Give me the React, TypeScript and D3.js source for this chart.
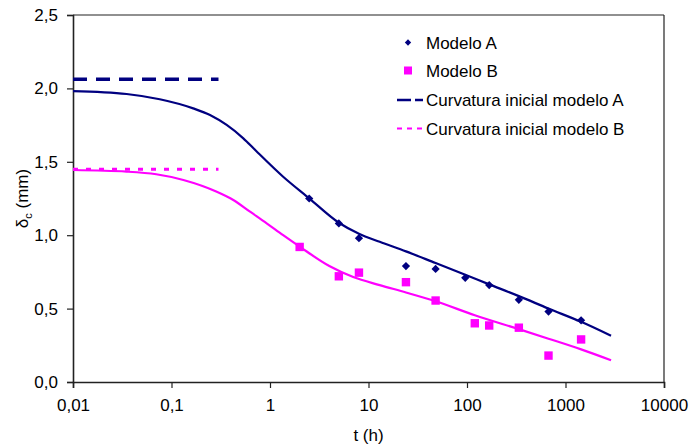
import React, { useRef, useEffect } from 'react';
import * as d3 from 'd3';

// measured points
const timeA = [2.5, 5, 8, 24, 48, 96, 168, 336, 672, 1440];
const deltaA = [1.25, 1.08, 0.98, 0.79, 0.77, 0.71, 0.66, 0.56, 0.48, 0.42];
const timeB = [2, 5, 8, 24, 48, 120, 168, 336, 672, 1440];
const deltaB = [0.92, 0.72, 0.745, 0.68, 0.555, 0.4, 0.385, 0.37, 0.18, 0.29];

// model curves
const curveTimeA = [0.01, 0.035, 0.076, 0.166, 0.246, 0.363, 0.536, 0.72, 1.36, 2.5, 5, 8, 13, 24, 48, 96, 168, 336, 672, 1440, 2900];
const curveDeltaA = [1.982, 1.962, 1.926, 1.864, 1.819, 1.751, 1.66, 1.575, 1.398, 1.251, 1.085, 1.01, 0.955, 0.89, 0.81, 0.73, 0.665, 0.585, 0.5, 0.41, 0.315];
const curveTimeB = [0.01, 0.035, 0.07, 0.132, 0.288, 0.424, 0.627, 0.925, 1.36, 2, 4, 7, 13, 24, 48, 120, 336, 672, 1440, 2900];
const curveDeltaB = [1.444, 1.433, 1.415, 1.376, 1.296, 1.24, 1.16, 1.081, 1.0, 0.922, 0.79, 0.715, 0.66, 0.61, 0.55, 0.455, 0.36, 0.295, 0.222, 0.148];

// initial curvature
const initialTime = [0.01, 0.3];
const initialA = 2.062;
const initialB = 1.449;

const xTicks = [0.01, 0.1, 1, 10, 100, 1000, 10000];
const xTickLabels = ['0,01', '0,1', '1', '10', '100', '1000', '10000'];
const yTicks = [0, 0.5, 1, 1.5, 2, 2.5];

const legendLabels = ['Modelo A', 'Modelo B', 'Curvatura inicial modelo A', 'Curvatura inicial modelo B'];

const NAVY = '#000080';
const PINK = '#FF00FF';
const FONT = 'Liberation Sans, Arial, sans-serif';

const App = () => {
  const svgRef = useRef(null);

  useEffect(() => {
    const svg = d3.select(svgRef.current);
    svg.selectAll('*').remove();

    const left = 73, right = 664, top = 15, bottom = 382;
    const x = d3.scaleLog().domain([0.01, 10000]).range([left, right]);
    const y = d3.scaleLinear().domain([0, 2.5]).range([bottom, top]);

    // frame
    svg.append('line').attr('x1', left).attr('x2', right).attr('y1', top).attr('y2', top)
      .attr('stroke', '#222').attr('stroke-width', 1.2);
    svg.append('line').attr('x1', right).attr('x2', right).attr('y1', top).attr('y2', bottom)
      .attr('stroke', '#222').attr('stroke-width', 1.2);

    // axes
    const xAxis = d3.axisBottom(x).tickValues(xTicks).tickSize(6).tickFormat((d, i) => xTickLabels[i]);
    const gx = svg.append('g').attr('transform', `translate(0,${bottom})`).call(xAxis);
    const yAxis = d3.axisLeft(y).tickValues(yTicks).tickSize(6).tickFormat(d => d3.format('.1f')(d).replace('.', ','));
    const gy = svg.append('g').attr('transform', `translate(${left},0)`).call(yAxis);

    [gx, gy].forEach(g => {
      g.select('.domain').attr('stroke', '#222').attr('stroke-width', 1.6);
      g.selectAll('.tick line').attr('stroke', '#222').attr('stroke-width', 1.2);
      g.selectAll('.tick text').style('font-family', FONT).style('font-size', '17px').attr('fill', '#000');
    });
    gx.selectAll('.tick text').attr('y', 17);
    gy.selectAll('.tick text').attr('x', -15);

    // initial curvature lines
    const flat = d3.line().x(d => x(d[0])).y(d => y(d[1]));
    svg.append('path').attr('d', flat(initialTime.map(t => [t, initialA])))
      .attr('fill', 'none').attr('stroke', NAVY).attr('stroke-width', 3.5).attr('stroke-dasharray', '14,9');
    svg.append('path').attr('d', flat(initialTime.map(t => [t, initialB])))
      .attr('fill', 'none').attr('stroke', PINK).attr('stroke-width', 3).attr('stroke-dasharray', '5,8');

    // model curves
    const smooth = d3.line().x(d => x(d[0])).y(d => y(d[1])).curve(d3.curveMonotoneX);
    svg.append('path').attr('d', smooth(curveTimeA.map((t, i) => [t, curveDeltaA[i]])))
      .attr('fill', 'none').attr('stroke', NAVY).attr('stroke-width', 2.2);
    svg.append('path').attr('d', smooth(curveTimeB.map((t, i) => [t, curveDeltaB[i]])))
      .attr('fill', 'none').attr('stroke', PINK).attr('stroke-width', 2.2);

    // markers
    const diamond = d3.symbol().type(d3.symbolSquare).size(34)();
    svg.append('g').selectAll('path').data(timeA).enter().append('path')
      .attr('d', diamond)
      .attr('transform', (t, i) => `translate(${x(t)},${y(deltaA[i])}) rotate(45)`)
      .attr('fill', NAVY);
    svg.append('g').selectAll('rect').data(timeB).enter().append('rect')
      .attr('x', t => x(t) - 4.2).attr('y', (t, i) => y(deltaB[i]) - 4.2)
      .attr('width', 8.4).attr('height', 8.4).attr('fill', PINK);

    // legend
    const lg = svg.append('g');
    const rowY = [42.5, 70.5, 100, 128.5];
    lg.append('path').attr('d', d3.symbol().type(d3.symbolSquare).size(20)())
      .attr('transform', `translate(408,${rowY[0]}) rotate(45)`).attr('fill', NAVY);
    lg.append('rect').attr('x', 404).attr('y', rowY[1] - 4).attr('width', 8).attr('height', 8).attr('fill', PINK);
    lg.append('line').attr('x1', 397).attr('x2', 423).attr('y1', rowY[2]).attr('y2', rowY[2])
      .attr('stroke', NAVY).attr('stroke-width', 2.5).attr('stroke-dasharray', '14,4');
    lg.append('line').attr('x1', 397).attr('x2', 423).attr('y1', rowY[3]).attr('y2', rowY[3])
      .attr('stroke', PINK).attr('stroke-width', 2).attr('stroke-dasharray', '5,5');
    lg.selectAll('text').data(legendLabels).enter().append('text')
      .attr('x', 426).attr('y', (d, i) => rowY[i] + 6)
      .style('font-family', FONT).style('font-size', '17px').attr('fill', '#000')
      .text(d => d);

    // axis titles
    svg.append('text').attr('x', (left + right) / 2).attr('y', 441).attr('text-anchor', 'middle')
      .style('font-family', FONT).style('font-size', '17px').text('t (h)');
    const yt = svg.append('text').attr('transform', `translate(28,${(top + bottom) / 2}) rotate(-90)`)
      .attr('text-anchor', 'middle').style('font-family', FONT).style('font-size', '17px');
    yt.append('tspan').text('δ');
    yt.append('tspan').attr('font-size', '11px').attr('dy', 4).text('c');
    yt.append('tspan').attr('dy', -4).text(' (mm)');
  }, []);

  return (
    <svg ref={svgRef} width={693} height={448}
      style={{ position: 'absolute', left: 0, top: 0, background: '#fff' }} />
  );
};

export default App;
